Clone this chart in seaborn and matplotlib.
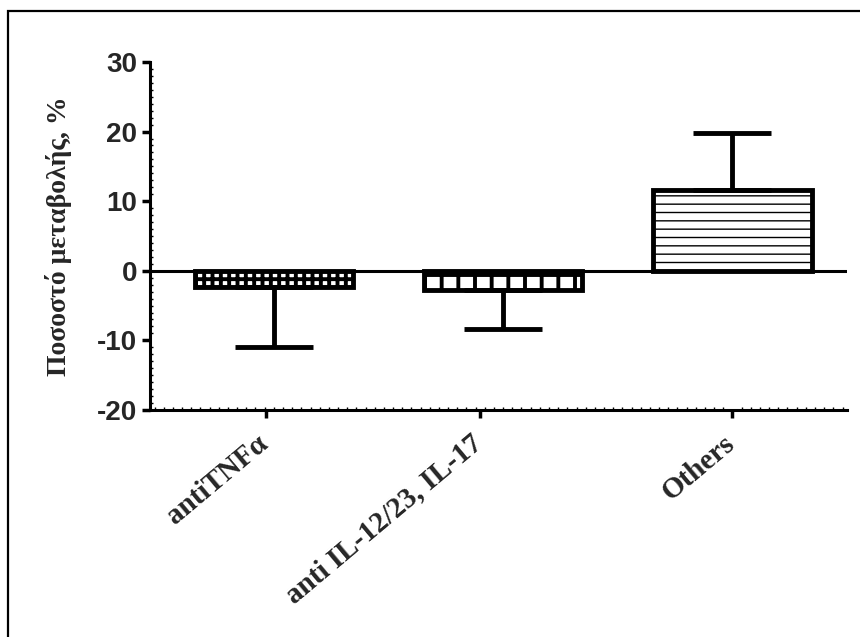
import numpy as np
import pandas as pd
import matplotlib
matplotlib.use('Agg')
import matplotlib.pyplot as plt
from matplotlib.patches import Rectangle
from matplotlib.ticker import MultipleLocator
from matplotlib.transforms import ScaledTranslation
import seaborn as sns

# values
groups = ['antiTNFα', 'anti IL-12/23, IL-17', 'Others']
means = [-2.4, -2.7, 11.6]
errors = [8.5, 5.6, 8.2]
hatches = ['++', '+', '--']

df = pd.DataFrame({'group': groups, 'mean': means})

sns.set_style('white')
plt.rcParams['hatch.linewidth'] = 2.8
plt.rcParams['hatch.color'] = 'black'
plt.rcParams['axes.unicode_minus'] = False

fig = plt.figure(figsize=(8.6, 6.37), dpi=100)
ax = fig.add_axes([0.1744, 0.3564, 0.8106, 0.5463])

sns.barplot(data=df, x='group', y='mean', color='white', width=0.69,
            edgecolor='black', linewidth=3.5, errorbar=None, ax=ax)
for patch, h in zip(ax.patches, hatches):
    patch.set_hatch(h)
    patch.set_facecolor('white')
    patch.set_edgecolor('black')
    if h == '--' and hasattr(patch, 'set_hatch_linewidth'):
        patch.set_hatch_linewidth(1.0)

# one-sided error bars (away from zero)
for i, (m, e) in enumerate(zip(means, errors)):
    lower = [e] if m < 0 else [0]
    upper = [e] if m >= 0 else [0]
    ax.errorbar(i, m, yerr=[lower, upper], fmt='none', ecolor='black',
                elinewidth=3.5, capsize=28, capthick=3.5, zorder=1)

ax.axhline(0, color='black', lw=2.2, zorder=3)

ax.set_ylim(-20, 30)
ax.set_xlim(-0.54, 2.5)
ax.set_yticks([-20, -10, 0, 10, 20, 30])
ax.yaxis.set_minor_locator(MultipleLocator(1))
ax.xaxis.set_minor_locator(MultipleLocator(0.04))
ax.set_xticks([-0.035, 0.9, 2.0])

for s in ['top', 'right']:
    ax.spines[s].set_visible(False)
for s in ['left', 'bottom']:
    ax.spines[s].set_linewidth(2.2)
    ax.spines[s].set_color('black')

ax.tick_params(axis='both', which='major', direction='out', length=6, width=2.5,
               color='black', bottom=True, left=True, pad=3)
ax.tick_params(axis='both', which='minor', direction='in', length=2.5, width=1,
               color='black', bottom=True, left=True)

for lab in ax.get_yticklabels():
    lab.set_fontfamily('Liberation Sans')
    lab.set_fontweight('bold')
    lab.set_fontsize(20)

ax.set_xticklabels(groups, rotation=40, ha='right', rotation_mode='anchor',
                   fontfamily='Liberation Serif', fontweight='bold', fontsize=21)
shift = ScaledTranslation(-0.10, 0.0, fig.dpi_scale_trans)
for lab in ax.get_xticklabels():
    lab.set_y(-0.02)
    lab.set_transform(lab.get_transform() + shift)

ax.set_xlabel('')
ax.set_ylabel('Ποσοστό μεταβολής, %', fontfamily='Liberation Serif',
              fontweight='bold', fontsize=20, labelpad=18)

# outer frame (only left and top edges fall inside the image)
fig.patches.append(Rectangle((8 / 860, -0.1), 1.2, 1 - 11 / 637 + 0.1,
                             transform=fig.transFigure, fill=False,
                             edgecolor='black', lw=1.6, zorder=0))

fig.savefig('out.png', dpi=100)
